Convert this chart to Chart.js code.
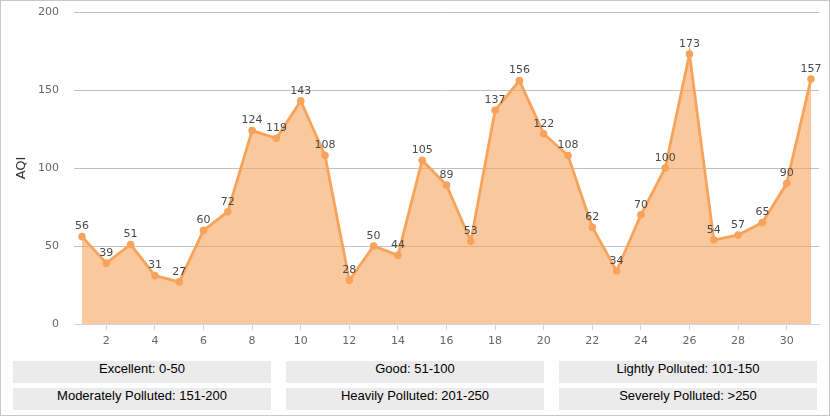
<!DOCTYPE html>
<html>
<head>
<meta charset="utf-8">
<script src="https://cdn.jsdelivr.net/npm/chart.js@4/dist/chart.umd.min.js"></script>
<style>
  html, body { margin: 0; padding: 0; background: #fff; }
  #frame { position: relative; width: 830px; height: 416px; box-sizing: border-box; border: 1px solid #c8c8c8; overflow: hidden; }
  #chart { position: absolute; left: -1px; top: -1px; }
  .lvl { position: absolute; width: 258px; height: 22px; line-height: 23px; background: #ebebeb;
         font: 13px "Liberation Sans", Arial, sans-serif; color: #000; text-align: center; }
</style>
</head>
<body>
<div id="frame">
  <canvas id="chart" width="830" height="346"></canvas>
  <div id="levels"></div>
</div>
<script>
// ---------------------------------------------------------------------
// data
// ---------------------------------------------------------------------
const days = Array.from({ length: 31 }, (_, i) => i + 1);
const aqi = [56, 39, 51, 31, 27, 60, 72, 124, 119, 143, 108, 28, 50, 44, 105,
             89, 53, 137, 156, 122, 108, 62, 34, 70, 100, 173, 54, 57, 65, 90, 157];
const xTicks = [2, 4, 6, 8, 10, 12, 14, 16, 18, 20, 22, 24, 26, 28, 30];
const yTicks = [0, 50, 100, 150, 200];
const levels = [
  "Excellent: 0-50", "Good: 51-100", "Lightly Polluted: 101-150",
  "Moderately Polluted: 151-200", "Heavily Polluted: 201-250", "Severely Polluted: >250"
];

// ---------------------------------------------------------------------
// level boxes under the chart
// ---------------------------------------------------------------------
const box = document.getElementById("levels");
levels.forEach((txt, i) => {
  const d = document.createElement("div");
  d.className = "lvl";
  d.style.left = (12 + (i % 3) * 273) + "px";
  d.style.top = (360 + Math.floor(i / 3) * 27) + "px";
  d.textContent = txt;
  box.appendChild(d);
});

// ---------------------------------------------------------------------
// value labels above points
// ---------------------------------------------------------------------
const pointLabels = {
  id: "pointLabels",
  afterDatasetsDraw(chart) {
    const ctx = chart.ctx;
    const meta = chart.getDatasetMeta(0);
    ctx.save();
    ctx.font = '11px "DejaVu Sans", Verdana, sans-serif';
    ctx.fillStyle = "#4a4a4a";
    ctx.textAlign = "center";
    ctx.textBaseline = "middle";
    meta.data.forEach((pt, i) => {
      ctx.fillText(String(aqi[i]), pt.x, pt.y - 10);
    });
    ctx.restore();
  }
};

new Chart(document.getElementById("chart"), {
  type: "line",
  data: {
    datasets: [{
      label: "AQI",
      data: days.map((d, i) => ({ x: d, y: aqi[i] })),
      borderColor: "#f7a35c",
      backgroundColor: "rgba(247,163,92,0.6)",
      pointBackgroundColor: "#f7a35c",
      pointBorderColor: "#f7a35c",
      borderWidth: 2.8,
      pointRadius: 3.8,
      pointBorderWidth: 0,
      tension: 0,
      fill: "origin"
    }]
  },
  options: {
    responsive: false,
    animation: false,
    layout: { padding: { left: 0, right: 11, top: 12, bottom: 0 } },
    plugins: { legend: { display: false }, tooltip: { enabled: false } },
    scales: {
      x: {
        type: "linear",
        min: 0.67,
        max: 31.33,
        afterBuildTicks: s => { s.ticks = xTicks.map(v => ({ value: v })); },
        afterFit: s => { s.height = 22; s.paddingLeft = 0; s.paddingRight = 0; },
        grid: { drawOnChartArea: false, drawTicks: true, tickLength: 6, color: "#ccd6eb" },
        border: { color: "#ccd6eb", width: 1 },
        ticks: { color: "#666", padding: 5, font: { family: "DejaVu Sans", size: 11 }, maxRotation: 0 }
      },
      y: {
        min: 0,
        max: 200,
        afterBuildTicks: s => { s.ticks = yTicks.map(v => ({ value: v })); },
        afterFit: s => { s.width = 74; s.paddingTop = 0; s.paddingBottom = 0; },
        grid: { color: "#c0c0c0", drawTicks: false },
        border: { display: false },
        ticks: { color: "#666", padding: 15, font: { family: "DejaVu Sans", size: 11 } },
        title: {
          display: true,
          text: "AQI",
          color: "#333",
          font: { family: "DejaVu Sans", size: 13 },
          padding: { top: 14, bottom: 0 }
        }
      }
    }
  },
  plugins: [pointLabels]
});
</script>
</body>
</html>
